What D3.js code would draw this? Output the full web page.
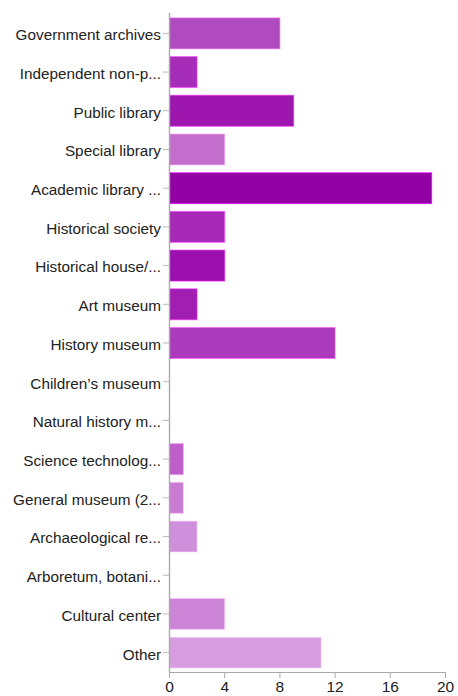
<!DOCTYPE html>
<html>
<head>
<meta charset="utf-8">
<script src="https://cdn.jsdelivr.net/npm/d3@7"></script>
<style>
  html, body { margin: 0; padding: 0; background: #fff; }
  svg { display: block; }
  text { font-family: "Liberation Sans", Arial, Helvetica, sans-serif; }
</style>
</head>
<body>
<svg id="chart" width="458" height="696"></svg>
<script>
// Institution types and the number of responses for each
const categories = [
  "Government archives",
  "Independent non-p...",
  "Public library",
  "Special library",
  "Academic library ...",
  "Historical society",
  "Historical house/...",
  "Art museum",
  "History museum",
  "Children\u2019s museum",
  "Natural history m...",
  "Science technolog...",
  "General museum (2...",
  "Archaeological re...",
  "Arboretum, botani...",
  "Cultural center",
  "Other"
];
const counts = [8, 2, 9, 4, 19, 4, 4, 2, 12, 0, 0, 1, 1, 2, 0, 4, 11];
const barColors = [
  "#b04bbf", "#a62db8", "#9d17af", "#c36ecc", "#9300a6", "#a62ab5",
  "#9c0faf", "#a21eb3", "#ac3abc", "#b04bbf", "#b04bbf", "#be5eca",
  "#c97ad2", "#d08fda", "#cc85d6", "#cc85d6", "#d79de0"
];
const xTicks = [0, 4, 8, 12, 16, 20];

const svg = d3.select("#chart");
const margin = { top: 14, right: 13, bottom: 24, left: 169 };
const width = 458 - margin.left - margin.right;
const height = 696 - margin.top - margin.bottom;

const g = svg.append("g").attr("transform", `translate(${margin.left},${margin.top})`);

const x = d3.scaleLinear().domain([0, 20]).range([0, width]);
const y = d3.scaleBand().domain(categories).range([0, height])
  .paddingInner(0.2).paddingOuter(0.1);

const rows = categories.map((c, i) => ({ c, v: counts[i], color: barColors[i] }));

// Bars
g.selectAll("rect.bar")
  .data(rows.filter(d => d.v > 0))
  .join("rect")
  .attr("class", "bar")
  .attr("x", x(0) + 0.5)
  .attr("y", d => y(d.c))
  .attr("width", d => x(d.v) - x(0))
  .attr("height", y.bandwidth())
  .attr("fill", d => d.color)
  .attr("stroke", d => d3.color(d.color).brighter(1.2))
  .attr("stroke-opacity", 0.6)
  .attr("stroke-width", 1);

// Category axis
const yAxis = g.append("g")
  .call(d3.axisLeft(y).tickSize(6).tickPadding(2).tickSizeOuter(0));
yAxis.select(".domain").attr("stroke", "#aaa").attr("stroke-width", 1.4)
  .attr("d", `M0.5,-1V${height + 0.5}`);
yAxis.selectAll(".tick line").attr("stroke", "#bbb");
yAxis.selectAll(".tick text")
  .attr("fill", "#222")
  .attr("dy", "0.45em")
  .style("font-size", "15.3px");

// Value axis
const xAxis = g.append("g")
  .attr("transform", `translate(0,${height})`)
  .call(d3.axisBottom(x).tickValues(xTicks).tickSize(6).tickPadding(3).tickSizeOuter(0));
xAxis.select(".domain").attr("stroke", "#aaa").attr("stroke-width", 1.2);
xAxis.selectAll(".tick line").attr("stroke", "#aaa");
xAxis.selectAll(".tick text")
  .attr("fill", "#222")
  .style("font-size", "15.5px");
</script>
</body>
</html>
